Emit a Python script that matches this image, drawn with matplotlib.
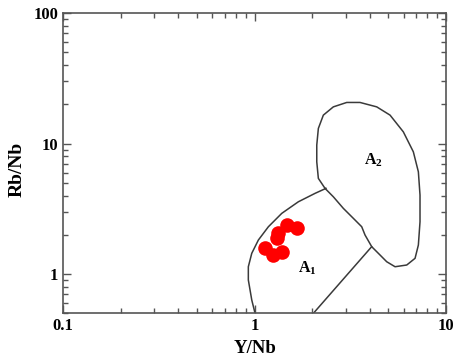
import numpy as np
import matplotlib
matplotlib.use('Agg')
import matplotlib.pyplot as plt
from matplotlib.ticker import LogLocator, FixedLocator, NullFormatter

plt.rcParams['font.family'] = ['Liberation Serif', 'DejaVu Serif']
plt.rcParams['font.weight'] = 'bold'

# sample ratios
y_nb = [1.47, 1.66, 1.33, 1.31, 1.14, 1.25, 1.39]
rb_nb = [2.37, 2.24, 2.05, 1.88, 1.57, 1.40, 1.48]

# field boundaries (Y/Nb, Rb/Nb)
a1_left_x = [1.006, 0.967, 0.928, 0.928, 0.967, 1.047, 1.181, 1.387, 1.693, 2.07, 2.36]
a1_left_y = [0.50, 0.632, 0.90, 1.137, 1.441, 1.822, 2.304, 2.918, 3.58, 4.155, 4.536]
a1_right_x = [4.09, 2.03]
a1_right_y = [1.62, 0.50]
a2_x = [2.334, 2.154, 2.113, 2.113, 2.154, 2.287, 2.579, 3.03, 3.555, 4.346,
        5.101, 5.984, 6.75, 7.17, 7.313, 7.313, 7.17, 6.89, 6.235, 5.417,
        4.90, 4.523, 4.093, 3.776, 3.628, 3.281, 2.909, 2.579, 2.334]
a2_y = [4.536, 5.412, 7.25, 9.74, 13.08, 16.54, 19.14, 20.69, 20.69, 19.14,
        16.54, 12.31, 8.65, 6.08, 4.03, 2.516, 1.668, 1.319, 1.172, 1.137,
        1.242, 1.398, 1.619, 1.99, 2.304, 2.672, 3.187, 3.911, 4.536]

fig = plt.figure(figsize=(4.57, 3.58), dpi=100)
ax = fig.add_axes([0.138, 0.125, 0.838, 0.838])
ax.set_xscale('log')
ax.set_yscale('log')
ax.set_xlim(0.1, 10)
ax.set_ylim(0.5, 100)

line_kw = dict(color='#3a3a3a', lw=1.1, solid_joinstyle='round')
ax.plot(a1_left_x, a1_left_y, **line_kw)
ax.plot(a1_right_x, a1_right_y, **line_kw)
ax.plot(a2_x, a2_y, **line_kw)

ax.plot(y_nb, rb_nb, 'o', color='#ff0000', ms=10.5, mec='none')

ax.text(4.16, 7.5, r'A$_\mathregular{2}$', fontsize=11.5, fontweight='bold', ha='center', va='center')
ax.text(1.88, 1.1, r'A$_\mathregular{1}$', fontsize=11.5, fontweight='bold', ha='center', va='center')

ax.xaxis.set_major_locator(FixedLocator([0.1, 1, 10]))
ax.yaxis.set_major_locator(FixedLocator([1, 10, 100]))
ax.xaxis.set_minor_locator(LogLocator(base=10, subs=np.arange(2, 10)))
ax.yaxis.set_minor_locator(LogLocator(base=10, subs=np.arange(2, 10)))
ax.xaxis.set_minor_formatter(NullFormatter())
ax.yaxis.set_minor_formatter(NullFormatter())
ax.set_xticklabels(['0.1', '1', '10'])
ax.set_yticklabels(['1', '10', '100'])

ax.tick_params(which='both', direction='in', top=True, right=True,
               color='#555555', width=1.0, labelsize=12)
ax.tick_params(which='major', length=6)
ax.tick_params(which='minor', length=3.6)
for s in ax.spines.values():
    s.set_color('#555555')
    s.set_linewidth(1.2)

ax.set_xlabel('Y/Nb', fontsize=13.5, fontweight='bold', labelpad=4)
ax.set_ylabel('Rb/Nb', fontsize=14, fontweight='bold')
ax.yaxis.set_label_coords(-0.098, 0.48)

fig.savefig('out.png', dpi=100)
